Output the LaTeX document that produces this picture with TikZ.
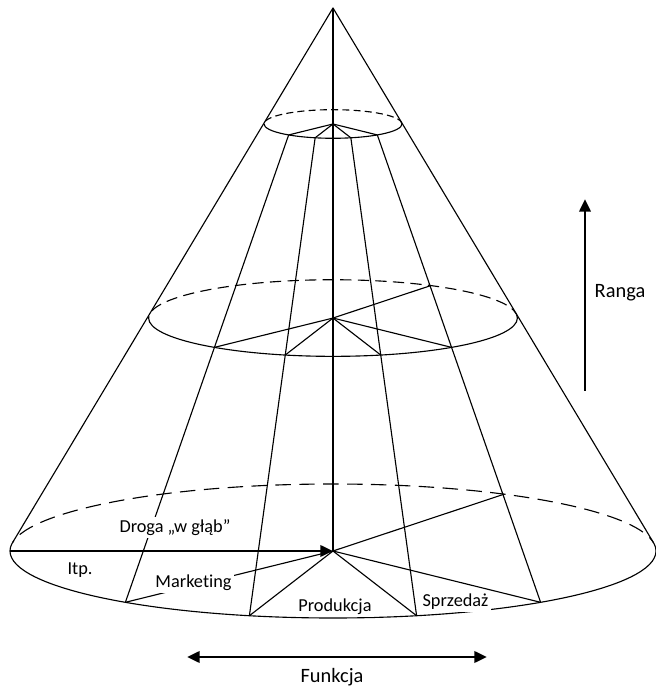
\documentclass[tikz,border=0pt]{standalone}
\usepackage{fontspec}
\setmainfont[Ligatures=NoCommon]{Carlito}
\usepackage{tikz}
\usetikzlibrary{arrows.meta,calc}

\begin{document}
\begin{tikzpicture}[x=0.025cm,y=0.025cm,line join=round,
  ln/.style={line width=0.8pt},
  hid/.style={line width=0.8pt,dash pattern=#1},
  lbl/.style={fill=white,inner sep=1.5pt,font=\fontsize{13}{15}\selectfont},
  tag/.style={inner sep=1pt,font=\fontsize{14.5}{17}\selectfont},
  arr/.style={line width=2pt,-{Triangle[length=9pt,width=8pt]}},
  arrs/.style={line width=2pt,{Triangle[length=9pt,width=8pt]}-{Triangle[length=9pt,width=8pt]}}]
  \useasboundingbox (0,0) rectangle (656,687);
  % apex and the centres of the three rims
  \coordinate (apex) at (333,679);
  \coordinate (cb) at (333,136);
  \coordinate (cm) at ($(apex)!0.571!(cb)$);
  \coordinate (ct) at ($(apex)!0.2136!(cb)$);
  % points on the bottom rim, carried up to the other rims
  \foreach \a [count=\i] in {230,255,285,310}{
    \coordinate (b\i) at ($(cb)+(\a:323 and 67)$);
    \coordinate (m\i) at ($(apex)!0.571!(b\i)$);
    \coordinate (t\i) at ($(apex)!0.2136!(b\i)$);
  }
  \coordinate (bk) at ($(cb)+(58:323 and 67)$);
  \coordinate (mk) at ($(apex)!0.571!(bk)$);
  \coordinate (bl) at ($(cb)+(180:323 and 67)$);
  \coordinate (el) at ($(cb)+(172.9:323 and 67)$);
  \coordinate (er) at ($(cb)+(7.1:323 and 67)$);
  % rims: front solid, back dashed
  \foreach \c/\rx/\ry/\don/\doff in {cb/323/67/11pt/6pt,cm/184.4/38.3/8pt/4.5pt,ct/69/14.3/5pt/3pt}{
    \draw[ln] (\c) ++(-\rx,0) arc[start angle=180,end angle=360,x radius=\rx,y radius=\ry];
    \draw[hid={on \don off \doff}] (\c) ++(\rx,0) arc[start angle=0,end angle=180,x radius=\rx,y radius=\ry];
  }
  % outline and axis
  \draw[ln] (el) -- (apex) -- (er);
  \draw[ln] (apex) -- (cb);
  % lines down the cone and spokes from the centres
  \foreach \i in {1,...,4}{
    \draw[ln] (t\i) -- (b\i);
    \draw[ln] (ct) -- (t\i) (cm) -- (m\i) (cb) -- (b\i);
  }
  \draw[ln] (cm) -- (mk) (cb) -- (bk);
  \draw[arr] (bl) -- (cb);
  % labels
  \node[lbl] (droga) at (175,159.5) {Droga „w głąb”};
  \node[lbl] (itp) at (80,117) {Itp.};
  \node[lbl] (mark) at (193.5,104) {Marketing};
  \node[lbl] (prod) at (335,80) {Produkcja};
  \node[lbl] (sprz) at (455.5,85) {Sprzedaż};
  % axes of rank and function
  \coordinate (r0) at (585,296);
  \coordinate (r1) at (585,488);
  \draw[arr] (r0) -- (r1);
  \node[tag] (ranga) at (620,394) {Ranga};
  \coordinate (f0) at (187,30);
  \coordinate (f1) at (487,30);
  \draw[arrs] (f0) -- (f1);
  \node[tag] (funk) at (332,10) {Funkcja};
\end{tikzpicture}
\end{document}
